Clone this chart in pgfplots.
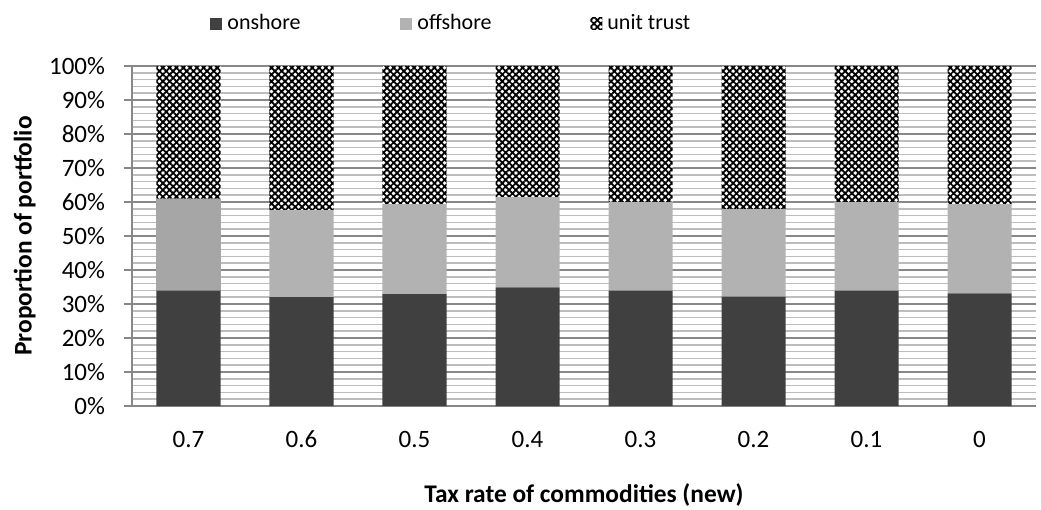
\documentclass[border=0pt,12pt]{standalone}
\usepackage{fontspec}
\setmainfont{Carlito}
\usepackage{pgfplots}
\pgfplotsset{compat=1.18}
\usetikzlibrary{patterns.meta}
\definecolor{onshore}{HTML}{404040}
\definecolor{offshore}{HTML}{B2B2B2}
\definecolor{offshoreA}{HTML}{A6A6A6}
\definecolor{axisgray}{HTML}{888888}
\definecolor{minorgray}{HTML}{BDBDBD}
\begin{document}
\begin{tikzpicture}
\begin{axis}[
  scale only axis, width=452pt, height=170pt,
  ybar stacked, bar width=32pt,
  xmin=-0.5, xmax=7.5, ymin=0, ymax=100,
  xtick={0,1,2,3,4,5,6,7},
  xticklabels={0.7,0.6,0.5,0.4,0.3,0.2,0.1,0},
  ytick={0,10,20,30,40,50,60,70,80,90,100},
  yticklabels={0\%,10\%,20\%,30\%,40\%,50\%,60\%,70\%,80\%,90\%,100\%},
  minor y tick num=4,
  ymajorgrids, yminorgrids,
  major grid style={draw=axisgray, line width=0.8pt},
  minor grid style={draw=minorgray, line width=0.85pt},
  axis lines*=left,
  axis line style={draw=axisgray, line width=0.8pt},
  x axis line style={-}, y axis line style={-},
  tick align=outside,
  ytick style={draw=axisgray, line width=0.8pt},
  xtick style={draw=none},
  major tick length=4pt, minor tick length=0pt,
  xticklabel style={anchor=center, yshift=-13.25pt, inner sep=0pt, text height=1.3ex, text depth=0.1ex, font=\fontsize{12.5}{15}\selectfont},
  yticklabel style={anchor=east, inner sep=0pt, xshift=-9.3pt, font=\fontsize{12.5}{15}\selectfont},
  every axis y label/.style={at={(rel axis cs:0,0.5)}, xshift=-53.6pt, rotate=90, anchor=center, font=\fontsize{12.7}{15}\selectfont\bfseries},
  every axis x label/.style={at={(rel axis cs:0.5,0)}, yshift=-44.5pt, anchor=center, font=\fontsize{12.7}{15}\selectfont\bfseries},
  ylabel={Proportion of portfolio},
  xlabel={Tax rate of commodities (new)},
  legend columns=3,
  legend style={at={(rel axis cs:0.0863,1)}, anchor=west, yshift=21pt, draw=none, fill=none, inner sep=0pt,
    font=\fontsize{11}{13}\selectfont,
    /tikz/every odd column/.append style={column sep=2.5pt},
    nodes={inner sep=0pt}},
  legend image code/.code={\path[#1] (0pt,-3pt) rectangle (6pt,3pt);},
]
\addplot[fill=onshore, draw=none] coordinates {(0,33.9) (1,32.0) (2,32.9) (3,34.9) (4,33.9) (5,32.2) (6,33.9) (7,33.1)};
\addlegendentry{\makebox[86.5pt][l]{onshore}}
\addplot[fill=offshore, draw=none] coordinates {(0,0) (1,25.6) (2,26.5) (3,26.5) (4,26.1) (5,25.7) (6,26.1) (7,26.3)};
\addlegendentry{\makebox[86.5pt][l]{offshore}}
\addplot[fill=offshoreA, draw=none, forget plot] coordinates {(0,27.1) (1,0) (2,0) (3,0) (4,0) (5,0) (6,0) (7,0)};
\addplot[fill=white, draw=none, postaction={pattern={Hatch[angle=45,distance=2.4pt,line width=0.9pt]}, pattern color=black}] coordinates {(0,39.0) (1,42.4) (2,40.6) (3,38.6) (4,40.0) (5,42.1) (6,40.0) (7,40.6)};
\addlegendentry{unit trust}
\coordinate (pa) at (rel axis cs:0,0);
\coordinate (pb) at (rel axis cs:1,1);
\end{axis}
\pgfresetboundingbox
\path ([shift={(-66pt,-51.5pt)}]pa) rectangle ([shift={(2.5pt,33pt)}]pb);
\end{tikzpicture}
\end{document}
